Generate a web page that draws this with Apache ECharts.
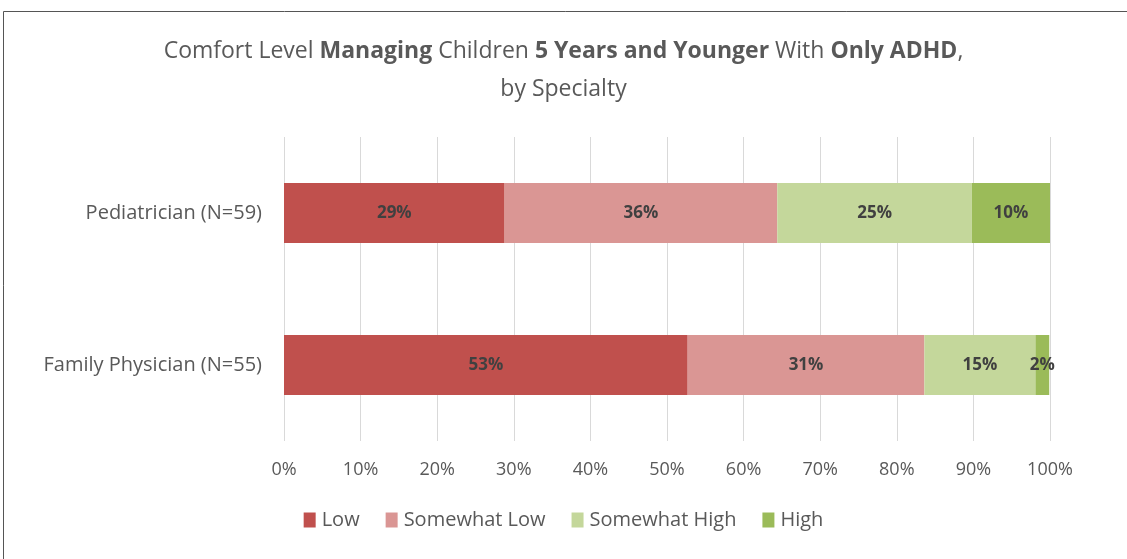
<!DOCTYPE html>
<html>
<head>
<meta charset="utf-8">
<script src="https://cdn.jsdelivr.net/npm/echarts@6/dist/echarts.min.js"></script>
<style>
  html, body { margin: 0; padding: 0; background: #fff; }
  #chart { width: 1127px; height: 559px; }
</style>
</head>
<body>
<div id="chart"></div>
<script>
// categories (bottom to top, as echarts draws a category y axis)
var specialties = ["Family Physician (N=55)", "Pediatrician (N=59)"];
var levels = ["Low", "Somewhat Low", "Somewhat High", "High"];
// percent of respondents in each specialty
var lowVals = [52.7, 28.8];
var someLowVals = [30.9, 35.6];
var someHighVals = [14.5, 25.4];
var highVals = [1.8, 10.2];
var xTicks = [0, 10, 20, 30, 40, 50, 60, 70, 80, 90, 100];

var colors = ["#C0504D", "#DA9694", "#C4D79B", "#9BBB59"];
var FONT = "'Open Sans', 'Noto Sans', sans-serif";

var chart = echarts.init(document.getElementById("chart"));

var seriesData = [lowVals, someLowVals, someHighVals, highVals];
var seriesArr = [];
levels.forEach(function (name, i) {
  seriesArr.push({
    name: name,
    type: "bar",
    stack: "total",
    barWidth: 60,
    data: seriesData[i],
    itemStyle: { color: colors[i] },
    label: {
      show: true,
      position: "inside",
      color: "#404040",
      fontWeight: "bold",
      fontSize: 17,
      fontFamily: FONT,
      formatter: function (p) {
        return Math.round(p.value) + "%";
      }
    }
  });
});

var titleStyle = {
  color: "#595959",
  fontSize: 23,
  fontWeight: "normal",
  fontFamily: FONT,
  rich: {
    b: { fontWeight: "bold", fontSize: 23, fontFamily: FONT, color: "#595959" }
  }
};

chart.setOption({
  animation: false,
  color: colors,
  title: [{
    text: "Comfort Level {b|Managing} Children {b|5 Years and Younger} With {b|Only ADHD},",
    left: "center",
    top: 35,
    textStyle: titleStyle
  }, {
    text: "by Specialty",
    left: "center",
    top: 73,
    textStyle: titleStyle
  }],
  graphic: [{
    type: "rect",
    shape: { x: 3.5, y: 11.5, width: 1140, height: 560 },
    style: { fill: "none", stroke: "#555", lineWidth: 1 },
    silent: true,
    z: -1
  }],
  grid: {
    left: 284,
    right: 77,
    top: 137,
    bottom: 118
  },
  xAxis: {
    type: "value",
    min: 0,
    max: 100,
    interval: 10,
    axisLine: { show: false },
    axisTick: { show: false },
    splitLine: { lineStyle: { color: "#D9D9D9", width: 1 } },
    axisLabel: {
      color: "#595959",
      fontSize: 18,
      fontFamily: FONT,
      margin: 20,
      formatter: function (v) {
        return xTicks.indexOf(v) >= 0 ? v + "%" : "";
      }
    }
  },
  yAxis: {
    type: "category",
    data: specialties,
    axisLine: { show: false },
    axisTick: { show: false },
    axisLabel: {
      color: "#595959",
      fontSize: 20,
      fontFamily: FONT,
      margin: 22
    }
  },
  legend: {
    data: levels,
    bottom: 24,
    left: "center",
    icon: "rect",
    itemWidth: 12,
    itemHeight: 15,
    itemGap: 26,
    textStyle: {
      color: "#595959",
      fontSize: 20,
      fontFamily: FONT,
      padding: [0, 0, 0, 1]
    }
  },
  series: seriesArr
});
</script>
</body>
</html>
